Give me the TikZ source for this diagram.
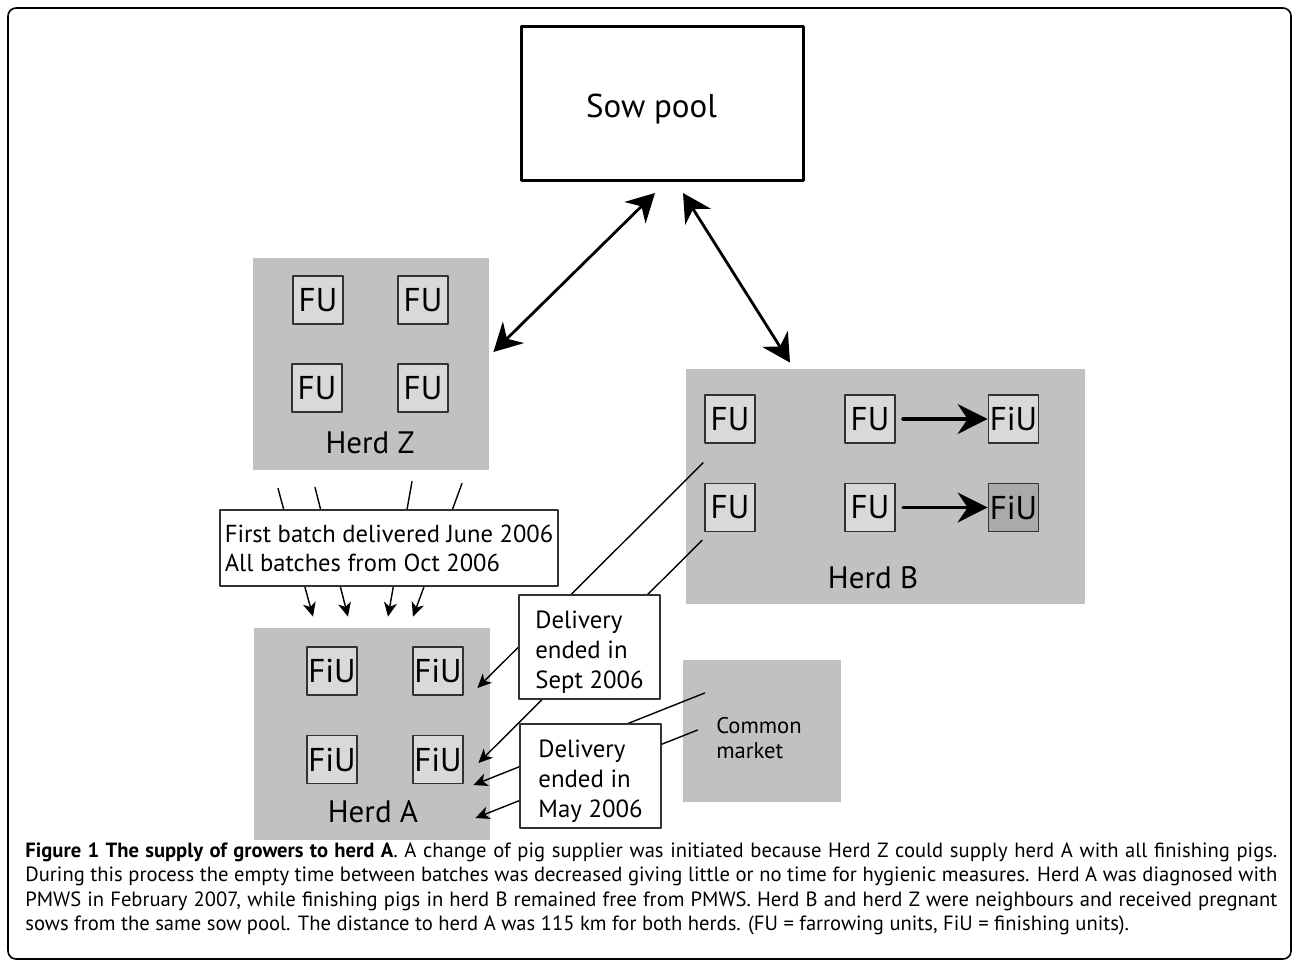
\documentclass[tikz,border=0pt]{standalone}
\usepackage{fontspec}
\setmainfont{PT Sans}
\usetikzlibrary{arrows.meta}
\definecolor{herdgray}{RGB}{193,193,193}
\definecolor{unitgray}{RGB}{217,217,217}
\definecolor{unitdark}{RGB}{170,170,170}
\definecolor{edgegray}{RGB}{50,50,50}

\begin{document}
\begin{tikzpicture}[line cap=round,line join=round,x=0.5pt,y=-0.5pt,
  herd/.style={fill=herdgray,draw=none,inner sep=0pt},
  unit/.style={fill=unitgray,draw=edgegray,line width=0.9pt,minimum width=25pt,minimum height=24pt,inner sep=0pt,font=\fontsize{16.5}{17}\selectfont},
  herdname/.style={anchor=base,inner sep=0pt,font=\fontsize{15.5}{16}\selectfont},
  note/.style={fill=white,draw=edgegray,line width=0.9pt,align=left,inner sep=0pt,font=\fontsize{12.4}{15}\selectfont},
  supply/.style={line width=0.7pt,-{Stealth[length=7pt,width=6.5pt,inset=2pt]}},
  pooltie/.style={line width=1.4pt,{Stealth[length=14pt,width=15pt,inset=4.5pt]}-{Stealth[length=14pt,width=15pt,inset=4.5pt]}},
  fuarrow/.style={line width=1.6pt,-{Stealth[length=15pt,width=15pt,inset=5pt]}}]
\useasboundingbox (0,0) rectangle (1293,966);
\draw[line width=0.8pt,rounded corners=4pt] (8,8) rectangle (1291,959);

% sow pool and herds
\node[draw,line width=1.5pt,minimum width=141pt,minimum height=77pt,inner sep=0pt,text height=13.5pt,text depth=0pt,font=\fontsize{16.5}{18}\selectfont] (sow) at (662.5,103.5) {Sow pool\hspace*{11pt}};
\node[herd,minimum width=118pt,minimum height=106pt] (herdZ) at (371,364) {};
\node[herd,minimum width=199.5pt,minimum height=117.5pt] (herdB) at (885.5,486.5) {};
\node[herd,minimum width=118pt,minimum height=106pt] (herdA) at (372,734) {};
\node[herd,minimum width=79pt,minimum height=71pt] (market) at (762,731) {};
\node[align=left,inner sep=0pt,font=\fontsize{11.3}{12.5}\selectfont] (marketname) at (759,738) {Common\\market};

% herd Z
\node[unit] (fuZ1) at (318,300) {FU};
\node[unit] (fuZ2) at (423,300) {FU};
\node[unit] (fuZ3) at (317,388) {FU};
\node[unit] (fuZ4) at (423,388) {FU};
\node[herdname] (nameZ) at (370,453) {Herd Z};

% herd B
\node[unit] (fuB1) at (730,419) {FU};
\node[unit] (fuB2) at (870,419) {FU};
\node[unit] (fiuB1) at (1013.5,419) {FiU};
\node[unit] (fuB3) at (730,507.5) {FU};
\node[unit] (fuB4) at (870,507.5) {FU};
\node[unit,fill=unitdark] (fiuB2) at (1013.5,507.5) {FiU};
\node[herdname] (nameB) at (873,588) {Herd B};
\draw[fuarrow] ([shift={(7,0)}]fuB2.east) -- (fiuB1.west);
\draw[fuarrow] ([shift={(7,0)}]fuB4.east) -- (fiuB2.west);

% herd A
\node[unit] (fiuA1) at (332,671) {FiU};
\node[unit] (fiuA2) at (438,671) {FiU};
\node[unit] (fiuA3) at (332,759.5) {FiU};
\node[unit] (fiuA4) at (438,759.5) {FiU};
\node[herdname] (nameA) at (373,822) {Herd A};

% connectors
\draw[pooltie] ([shift={(-7.5,11)}]sow.south) -- ([shift={(4,-12)}]herdZ.east);
\draw[pooltie] ([shift={(20.5,11)}]sow.south) -- ([shift={(-95.5,-6)}]herdB.north);
\foreach \sx/\sy/\ex/\ey in {-93/18/-59/-11,-56/17/-24/-11,41/11/16/-11,91/13/41/-11}
  \draw[supply] ([shift={(\sx,\sy)}]herdZ.south) -- ([shift={(\ex,\ey)}]herdA.north);
\draw[supply] ([shift={(-27,19)}]fuB1.south) -- ([shift={(-13,-46)}]herdA.east);
\draw[supply] ([shift={(-28,8)}]fuB3.south) -- ([shift={(-12,29)}]herdA.east);
\draw[supply] ([shift={(22,-38)}]market.west) -- ([shift={(-17,51)}]herdA.east);
\draw[supply] ([shift={(15,-1)}]market.west) -- ([shift={(-15,84)}]herdA.east);

% notes
\node[note,minimum width=169pt,minimum height=38pt,font=\fontsize{12.3}{14.5}\selectfont] (batches) at (389,548) {First batch delivered June 2006\\All batches from Oct 2006};
\node[note,minimum width=70.5pt,minimum height=52pt] (sept) at (589.5,647) {\rule{0pt}{14pt}Delivery\\ended in\\Sept 2006};
\node[note,minimum width=70.5pt,minimum height=52pt] (may) at (590.5,776) {\rule{0pt}{14pt}Delivery\\ended in\\May 2006};

% caption
\node[anchor=north west,inner sep=0pt,text width=626pt,align=justify,font=\fontsize{10.3}{12.25}\selectfont] (caption) at (25,842)
{\textbf{Figure 1 The supply of growers to herd A}. A change of pig supplier was initiated because Herd Z could supply herd A with all finishing pigs.\linebreak
During this process the empty time between batches was decreased giving little or no time for hygienic measures. Herd A was diagnosed with\linebreak
PMWS in February 2007, while finishing pigs in herd B remained free from PMWS. Herd B and herd Z were neighbours and received pregnant\linebreak
sows from the same sow pool. The distance to herd A was 115 km for both herds. (FU = farrowing units, FiU = finishing units).};
\end{tikzpicture}
\end{document}
